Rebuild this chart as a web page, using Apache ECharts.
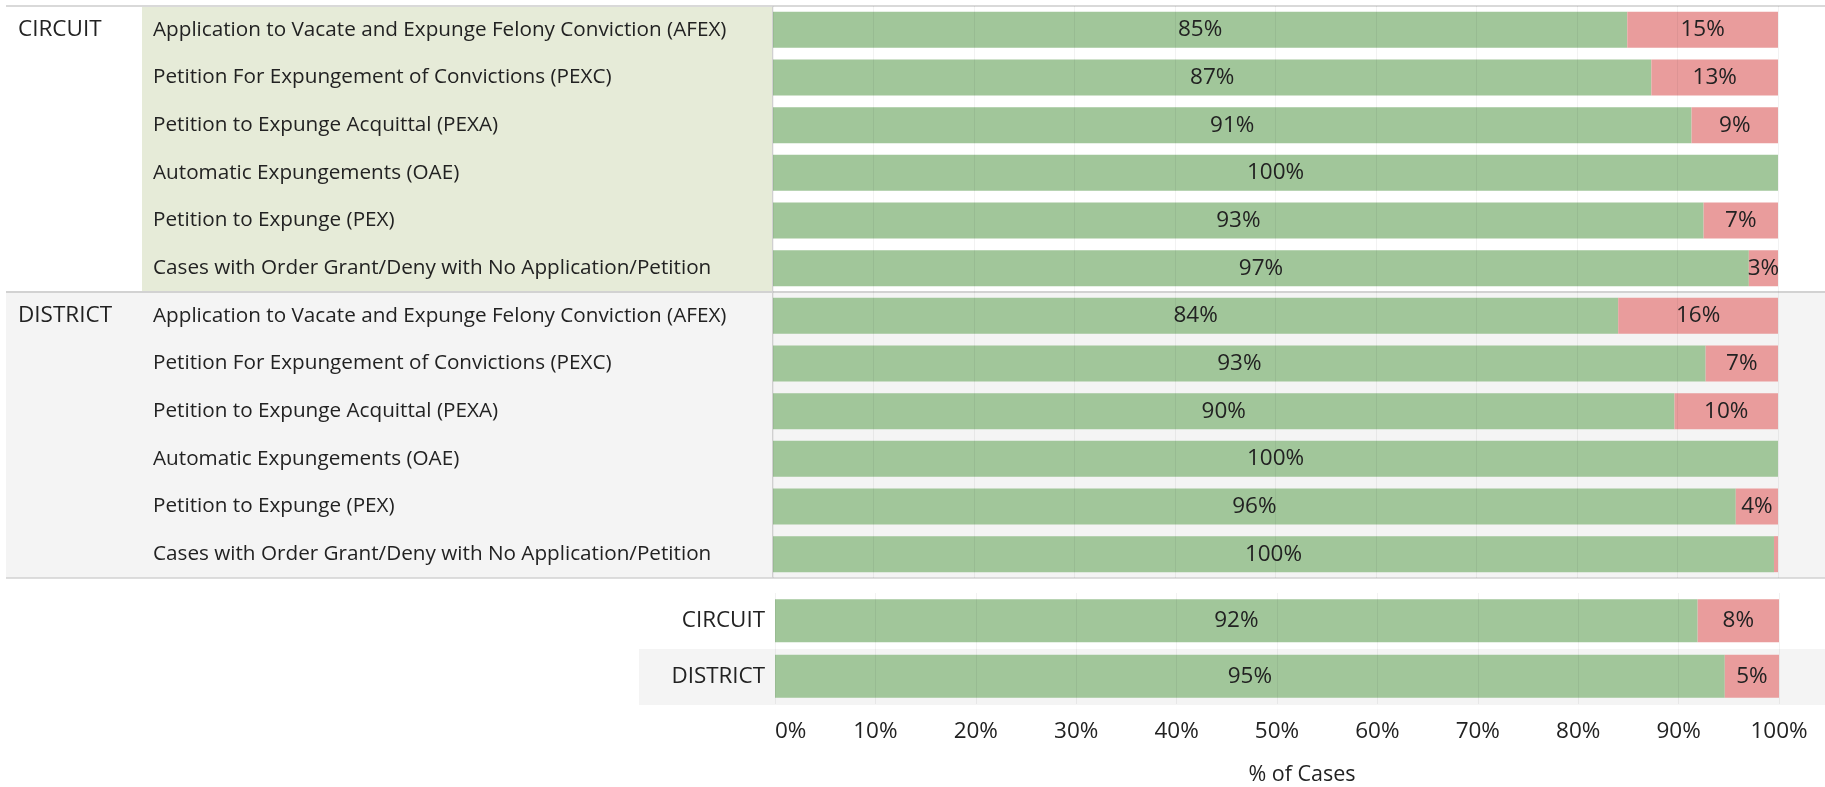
<!DOCTYPE html>
<html>
<head>
<meta charset="utf-8">
<script src="https://cdn.jsdelivr.net/npm/echarts@6/dist/echarts.min.js"></script>
<style>
  html, body { margin: 0; padding: 0; background: #ffffff; }
  #chart { width: 1825px; height: 787px; }
</style>
</head>
<body>
<div id="chart"></div>
<script>
// ---- Data ----
const courtGroups = ['CIRCUIT', 'DISTRICT'];
const caseTypes = [
  'Application to Vacate and Expunge Felony Conviction (AFEX)',
  'Petition For Expungement of Convictions (PEXC)',
  'Petition to Expunge Acquittal (PEXA)',
  'Automatic Expungements (OAE)',
  'Petition to Expunge (PEX)',
  'Cases with Order Grant/Deny with No Application/Petition'
];
const circuitGrant = [85.0, 87.4, 91.4, 100, 92.6, 97.1];
const circuitDeny  = [15.0, 12.6, 8.6, 0, 7.4, 2.9];
const districtGrant = [84.1, 92.8, 89.7, 100, 95.8, 99.6];
const districtDeny  = [15.9, 7.2, 10.3, 0, 4.2, 0.4];
const totalGroups = ['CIRCUIT', 'DISTRICT'];
const totalGrant = [91.9, 94.6];
const totalDeny  = [8.1, 5.4];
const xTickValues = [0, 10, 20, 30, 40, 50, 60, 70, 80, 90, 100];
const xAxisTitle = '% of Cases';

// ---- Style ----
const FONT = '"Open Sans"';
const TXT = '#222222';
const GREEN = '#a1c69a';
const RED = '#e99c9c';
const GRID_LINE = 'rgba(0,0,0,0.05)';

const chart = echarts.init(document.getElementById('chart'), null, { renderer: 'canvas' });

const W = 1825;
const barLeft = 773, barRight = W - 1778;
const paneTop = [6, 292];
const paneH = 286;

function pctLabel(p) {
  return p.value >= 1 ? Math.round(p.value) + '%' : '';
}

const labelStyle = {
  show: true, position: 'inside', color: TXT, fontFamily: FONT, fontSize: 22.5,
  formatter: pctLabel
};

function xAxisFor(gridIndex, showLabels) {
  return {
    type: 'value', gridIndex: gridIndex, min: 0, max: 100, interval: 10, z: 5,
    axisLine: { show: false }, axisTick: { show: false },
    splitLine: { show: true, lineStyle: { color: GRID_LINE, width: 1 } },
    axisLabel: showLabels ? {
      show: true, color: TXT, fontFamily: FONT, fontSize: 22.5, margin: 16,
      alignMinLabel: 'left',
      formatter: function (v) { return xTickValues.indexOf(v) >= 0 ? v + '%' : ''; }
    } : { show: false },
    name: showLabels ? xAxisTitle : '',
    nameLocation: 'middle', nameGap: 60,
    nameTextStyle: { color: TXT, fontFamily: FONT, fontSize: 21.5, padding: [0, 0, 0, 50] }
  };
}

function catAxis(gridIndex, data, margin, align, size) {
  return {
    type: 'category', gridIndex: gridIndex, data: data, inverse: true,
    axisLine: { show: false }, axisTick: { show: false }, splitLine: { show: false },
    axisLabel: { show: true, color: TXT, fontFamily: FONT, fontSize: size, margin: margin, align: align }
  };
}

const graphics = [
  { type: 'rect', z: -10, shape: { x: 142, y: 7, width: barLeft - 142, height: 285 }, style: { fill: '#e6ebd8' } },
  { type: 'rect', z: -10, shape: { x: 6, y: 292, width: W - 6, height: 286 }, style: { fill: '#f4f4f4' } },
  { type: 'rect', z: -10, shape: { x: 639, y: 649, width: W - 639, height: 56 }, style: { fill: '#f4f4f4' } },
  { type: 'line', z: -5, shape: { x1: 6, y1: 6, x2: W, y2: 6 }, style: { stroke: '#d9d9d9', lineWidth: 2 } },
  { type: 'line', z: -5, shape: { x1: 6, y1: 292, x2: W, y2: 292 }, style: { stroke: '#d2d2d2', lineWidth: 2 } },
  { type: 'line', z: -5, shape: { x1: 6, y1: 578, x2: W, y2: 578 }, style: { stroke: '#d2d2d2', lineWidth: 1.5 } },
  { type: 'line', z: -5, shape: { x1: barLeft - 0.5, y1: 6, x2: barLeft - 0.5, y2: 578 }, style: { stroke: '#d0d0d0', lineWidth: 1 } }
];
courtGroups.forEach(function (g, i) {
  graphics.push({
    type: 'text', z: 10, x: 18, y: paneTop[i] + paneH / 12,
    style: { text: g, fill: TXT, font: '22.5px ' + FONT, textVerticalAlign: 'middle', verticalAlign: 'middle' }
  });
});

const option = {
  backgroundColor: '#ffffff',
  animation: false,
  textStyle: { fontFamily: FONT },
  graphic: graphics,
  grid: [
    { left: barLeft, right: barRight, top: paneTop[0], height: paneH },
    { left: barLeft, right: barRight, top: paneTop[1], height: paneH },
    { left: 775, right: W - 1779, top: 593, height: 112 }
  ],
  xAxis: [xAxisFor(0, false), xAxisFor(1, false), xAxisFor(2, true)],
  yAxis: [
    catAxis(0, caseTypes, barLeft - 153, 'left', 20.7),
    catAxis(1, caseTypes, barLeft - 153, 'left', 20.7),
    catAxis(2, totalGroups, 10, 'right', 22.4)
  ],
  series: [
    { name: 'Grant', type: 'bar', xAxisIndex: 0, yAxisIndex: 0, stack: 'c', data: circuitGrant, barWidth: 36, itemStyle: { color: GREEN }, label: labelStyle },
    { name: 'Deny', type: 'bar', xAxisIndex: 0, yAxisIndex: 0, stack: 'c', data: circuitDeny, barWidth: 36, itemStyle: { color: RED }, label: labelStyle },
    { name: 'Grant', type: 'bar', xAxisIndex: 1, yAxisIndex: 1, stack: 'd', data: districtGrant, barWidth: 36, itemStyle: { color: GREEN }, label: labelStyle },
    { name: 'Deny', type: 'bar', xAxisIndex: 1, yAxisIndex: 1, stack: 'd', data: districtDeny, barWidth: 36, itemStyle: { color: RED }, label: labelStyle },
    { name: 'Grant', type: 'bar', xAxisIndex: 2, yAxisIndex: 2, stack: 't', data: totalGrant, barWidth: 43, itemStyle: { color: GREEN }, label: labelStyle },
    { name: 'Deny', type: 'bar', xAxisIndex: 2, yAxisIndex: 2, stack: 't', data: totalDeny, barWidth: 43, itemStyle: { color: RED }, label: labelStyle }
  ]
};

chart.setOption(option);
</script>
</body>
</html>
